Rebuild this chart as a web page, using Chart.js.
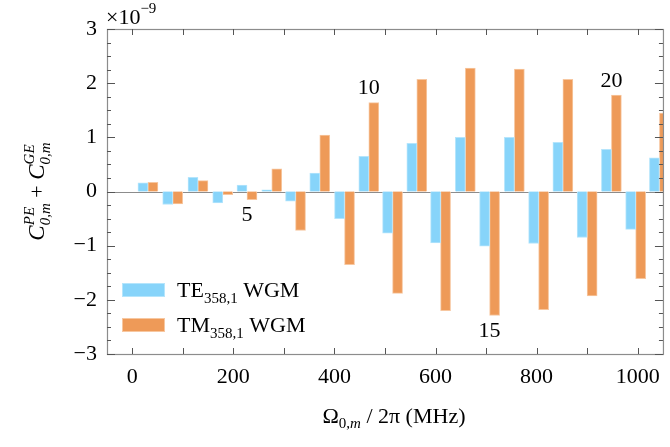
<!DOCTYPE html>
<html>
<head>
<meta charset="utf-8">
<script src="https://cdn.jsdelivr.net/npm/chart.js@4.4.1/dist/chart.umd.min.js"></script>
<style>
  html, body { margin: 0; padding: 0; background: #fff; }
</style>
</head>
<body>
<canvas id="chart" width="670" height="447"></canvas>
<script>
// mode frequencies Omega_0,m / 2pi in MHz
const freqs = [31, 80, 130, 179, 227, 276, 323, 371, 420, 468, 515, 563, 610, 659, 707, 756, 804, 852, 900, 948, 996, 1043];
// C^PE + C^GE, in units of 1e-9
const teValues = [0.16, -0.24, 0.26, -0.21, 0.12, 0.03, -0.18, 0.34, -0.50, 0.65, -0.77, 0.89, -0.95, 1.00, -1.01, 1.00, -0.96, 0.91, -0.85, 0.78, -0.70, 0.62];
const tmValues = [0.17, -0.23, 0.20, -0.06, -0.15, 0.42, -0.72, 1.04, -1.35, 1.64, -1.88, 2.07, -2.20, 2.28, -2.29, 2.26, -2.18, 2.07, -1.93, 1.78, -1.61, 1.45];
const markedModes = [5, 10, 15, 20];
const xTickValues = [0, 200, 400, 600, 800, 1000];
const yTickValues = [-3, -2, -1, 0, 1, 2, 3];

const teColor = '#87d4fa', teEdge = '#b5e5fc';
const tmColor = '#ee9a58', tmEdge = '#f7c7a0';
const serif = '"Liberation Serif", "Times New Roman", serif';

function f(size, style) { return (style ? style + ' ' : '') + size + 'px ' + serif; }

// draw a list of text pieces one after another; [text, font, dy, stackWithNext]
function drawRuns(ctx, x, y, parts, measureOnly) {
    let cx = x;
    for (let i = 0; i < parts.length; i++) {
        const p = parts[i];
        ctx.font = p[1];
        const w = ctx.measureText(p[0]).width;
        if (!measureOnly) ctx.fillText(p[0], cx, y + (p[2] || 0));
        if (p[3]) {
            const q = parts[++i];
            ctx.font = q[1];
            const w2 = ctx.measureText(q[0]).width;
            if (!measureOnly) ctx.fillText(q[0], cx, y + (q[2] || 0));
            cx += Math.max(w, w2);
        } else {
            cx += w;
        }
    }
    return cx - x;
}

const decor = {
    id: 'decor',
    beforeDatasetsDraw(chart) {
        const {ctx, chartArea: a, scales: {y}} = chart;
        ctx.save();
        ctx.strokeStyle = '#8c8c8c';
        ctx.lineWidth = 1;
        const y0 = Math.round(y.getPixelForValue(0)) + 0.5;
        ctx.beginPath(); ctx.moveTo(a.left, y0); ctx.lineTo(a.right, y0); ctx.stroke();
        ctx.restore();
    },
    afterDatasetsDraw(chart) {
        const {ctx, chartArea: a, scales: {x, y}} = chart;
        ctx.save();
        // frame
        ctx.strokeStyle = '#8c8c8c';
        ctx.lineWidth = 1.2;
        ctx.strokeRect(a.left + 0.5, a.top + 0.5, a.right - a.left, a.bottom - a.top);
        // inward ticks
        ctx.strokeStyle = '#555';
        ctx.lineWidth = 1;
        ctx.beginPath();
        for (let v = 0; v <= 1000; v += 100) {
            const px = Math.round(x.getPixelForValue(v)) + 0.5;
            ctx.moveTo(px, a.bottom); ctx.lineTo(px, a.bottom - 6);
            ctx.moveTo(px, a.top); ctx.lineTo(px, a.top + 6);
        }
        for (let k = -12; k <= 12; k++) {
            const v = k / 4;
            const py = Math.round(y.getPixelForValue(v)) + 0.5;
            const len = k % 4 === 0 ? 8 : 4;
            ctx.moveTo(a.left, py); ctx.lineTo(a.left + len, py);
            ctx.moveTo(a.right, py); ctx.lineTo(a.right - len, py);
        }
        ctx.stroke();

        ctx.fillStyle = '#000';
        // mode numbers next to bars
        ctx.font = f(22);
        ctx.textAlign = 'center';
        ctx.textBaseline = 'middle';
        markedModes.forEach(m => {
            const i = m - 1;
            const v = Math.abs(tmValues[i]) > Math.abs(teValues[i]) ? tmValues[i] : teValues[i];
            const py = y.getPixelForValue(v) + (v < 0 ? 16 : -14);
            ctx.fillText(String(m), x.getPixelForValue(freqs[i]), py);
        });
        ctx.textAlign = 'left';
        ctx.textBaseline = 'alphabetic';

        // exponent
        drawRuns(ctx, a.left - 1, 24, [['×10', f(22)], ['−9', f(15), -11]]);

        // legend
        const legend = [['TE', teColor, teEdge], ['TM', tmColor, tmEdge]];
        legend.forEach((l, j) => {
            const by = 283 + j * 35;
            ctx.fillStyle = l[1];
            ctx.fillRect(a.left + 15, by, 43, 14);
            ctx.strokeStyle = l[2];
            ctx.strokeRect(a.left + 15.5, by + 0.5, 42, 13);
            ctx.fillStyle = '#000';
            drawRuns(ctx, a.left + 70, by + 14, [[l[0], f(22)], ['358,1', f(15), 6], [' WGM', f(22)]]);
        });

        // x title
        const xt = [['Ω', f(22)], ['0,', f(15), 5], ['m', f(15, 'italic'), 5], [' / 2π (MHz)', f(22)]];
        const wx = drawRuns(ctx, 0, 0, xt, true);
        drawRuns(ctx, (a.left + a.right) / 2 + 9 - wx / 2, 423, xt);

        // y title (rotated)
        const yt = [['C', f(23, 'italic')], ['PE', f(15, 'italic'), -10, true], ['0,m', f(15, 'italic'), 6],
                    [' + ', f(22)], ['C', f(23, 'italic')], ['GE', f(15, 'italic'), -10, true], ['0,m', f(15, 'italic'), 6]];
        const wy = drawRuns(ctx, 0, 0, yt, true);
        ctx.translate(44, (a.top + a.bottom) / 2);
        ctx.rotate(-Math.PI / 2);
        drawRuns(ctx, -wy / 2, 0, yt);
        ctx.restore();
    }
};

new Chart(document.getElementById('chart'), {
    type: 'bar',
    data: {
        datasets: [
            {
                label: 'TE358,1 WGM',
                data: freqs.map((fq, i) => ({x: fq, y: teValues[i]})),
                backgroundColor: teColor,
                borderColor: teEdge,
                borderWidth: 1,
                barThickness: 10
            },
            {
                label: 'TM358,1 WGM',
                data: freqs.map((fq, i) => ({x: fq, y: tmValues[i]})),
                backgroundColor: tmColor,
                borderColor: tmEdge,
                borderWidth: 1,
                barThickness: 10
            }
        ]
    },
    options: {
        responsive: false,
        animation: false,
        devicePixelRatio: 1,
        layout: { padding: { top: 29, right: 7, left: 0, bottom: 0 } },
        plugins: { legend: { display: false }, tooltip: { enabled: false } },
        scales: {
            x: {
                type: 'linear',
                min: -50,
                max: 1050,
                offset: false,
                afterFit: s => { s.height = 93; },
                afterBuildTicks: s => { s.ticks = xTickValues.map(v => ({value: v})); },
                ticks: {
                    font: { family: serif, size: 22 }, color: '#000', padding: 10, maxRotation: 0,
                    callback: v => String(v)
                },
                grid: { display: false, drawTicks: false },
                border: { display: false }
            },
            y: {
                min: -3,
                max: 3,
                afterFit: s => { s.width = 107; },
                afterBuildTicks: s => { s.ticks = yTickValues.map(v => ({value: v})); },
                ticks: {
                    font: { family: serif, size: 22 }, color: '#000', padding: 10,
                    callback: v => v < 0 ? '−' + Math.abs(v) : String(v)
                },
                grid: { display: false, drawTicks: false },
                border: { display: false }
            }
        }
    },
    plugins: [decor]
});
</script>
</body>
</html>
